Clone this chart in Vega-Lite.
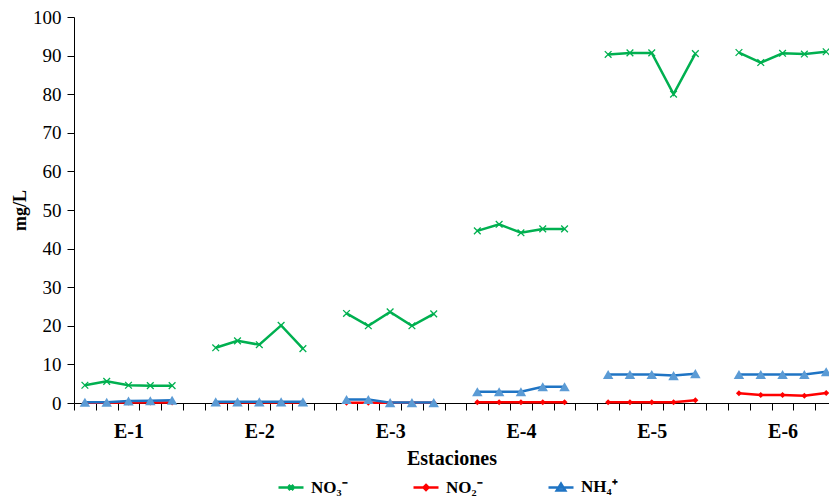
{
  "$schema": "https://vega.github.io/schema/vega-lite/v6.json",
  "width": 755,
  "height": 386,
  "autosize": {"type": "none"},
  "padding": {"left": 74, "top": 17, "right": 0, "bottom": 99},
  "background": "white",
  "config": {"view": {"stroke": null}, "font": "Liberation Serif"},
  "data": {"values": [
    {"station":"E-1","slot":0,"series":"NO₃⁻","value":4.6},
    {"station":"E-1","slot":1,"series":"NO₃⁻","value":5.6},
    {"station":"E-1","slot":2,"series":"NO₃⁻","value":4.6},
    {"station":"E-1","slot":3,"series":"NO₃⁻","value":4.5},
    {"station":"E-1","slot":4,"series":"NO₃⁻","value":4.5},
    {"station":"E-2","slot":6,"series":"NO₃⁻","value":14.3},
    {"station":"E-2","slot":7,"series":"NO₃⁻","value":16.1},
    {"station":"E-2","slot":8,"series":"NO₃⁻","value":15.1},
    {"station":"E-2","slot":9,"series":"NO₃⁻","value":20.1},
    {"station":"E-2","slot":10,"series":"NO₃⁻","value":14.1},
    {"station":"E-3","slot":12,"series":"NO₃⁻","value":23.2},
    {"station":"E-3","slot":13,"series":"NO₃⁻","value":20.0},
    {"station":"E-3","slot":14,"series":"NO₃⁻","value":23.6},
    {"station":"E-3","slot":15,"series":"NO₃⁻","value":20.0},
    {"station":"E-3","slot":16,"series":"NO₃⁻","value":23.1},
    {"station":"E-4","slot":18,"series":"NO₃⁻","value":44.6},
    {"station":"E-4","slot":19,"series":"NO₃⁻","value":46.3},
    {"station":"E-4","slot":20,"series":"NO₃⁻","value":44.1},
    {"station":"E-4","slot":21,"series":"NO₃⁻","value":45.1},
    {"station":"E-4","slot":22,"series":"NO₃⁻","value":45.1},
    {"station":"E-5","slot":24,"series":"NO₃⁻","value":90.3},
    {"station":"E-5","slot":25,"series":"NO₃⁻","value":90.7},
    {"station":"E-5","slot":26,"series":"NO₃⁻","value":90.7},
    {"station":"E-5","slot":27,"series":"NO₃⁻","value":80.0},
    {"station":"E-5","slot":28,"series":"NO₃⁻","value":90.5},
    {"station":"E-6","slot":30,"series":"NO₃⁻","value":90.8},
    {"station":"E-6","slot":31,"series":"NO₃⁻","value":88.2},
    {"station":"E-6","slot":32,"series":"NO₃⁻","value":90.6},
    {"station":"E-6","slot":33,"series":"NO₃⁻","value":90.4},
    {"station":"E-6","slot":34,"series":"NO₃⁻","value":91.0},
    {"station":"E-1","slot":0,"series":"NO₂⁻","value":0.05},
    {"station":"E-1","slot":1,"series":"NO₂⁻","value":0.05},
    {"station":"E-1","slot":2,"series":"NO₂⁻","value":0.1},
    {"station":"E-1","slot":3,"series":"NO₂⁻","value":0.1},
    {"station":"E-1","slot":4,"series":"NO₂⁻","value":0.1},
    {"station":"E-2","slot":6,"series":"NO₂⁻","value":0.1},
    {"station":"E-2","slot":7,"series":"NO₂⁻","value":0.1},
    {"station":"E-2","slot":8,"series":"NO₂⁻","value":0.1},
    {"station":"E-2","slot":9,"series":"NO₂⁻","value":0.1},
    {"station":"E-2","slot":10,"series":"NO₂⁻","value":0.1},
    {"station":"E-3","slot":12,"series":"NO₂⁻","value":0.05},
    {"station":"E-3","slot":13,"series":"NO₂⁻","value":0.05},
    {"station":"E-3","slot":14,"series":"NO₂⁻","value":0.05},
    {"station":"E-3","slot":15,"series":"NO₂⁻","value":0.05},
    {"station":"E-3","slot":16,"series":"NO₂⁻","value":0.05},
    {"station":"E-4","slot":18,"series":"NO₂⁻","value":0.2},
    {"station":"E-4","slot":19,"series":"NO₂⁻","value":0.2},
    {"station":"E-4","slot":20,"series":"NO₂⁻","value":0.2},
    {"station":"E-4","slot":21,"series":"NO₂⁻","value":0.2},
    {"station":"E-4","slot":22,"series":"NO₂⁻","value":0.2},
    {"station":"E-5","slot":24,"series":"NO₂⁻","value":0.2},
    {"station":"E-5","slot":25,"series":"NO₂⁻","value":0.2},
    {"station":"E-5","slot":26,"series":"NO₂⁻","value":0.2},
    {"station":"E-5","slot":27,"series":"NO₂⁻","value":0.2},
    {"station":"E-5","slot":28,"series":"NO₂⁻","value":0.7},
    {"station":"E-6","slot":30,"series":"NO₂⁻","value":2.5},
    {"station":"E-6","slot":31,"series":"NO₂⁻","value":2.1},
    {"station":"E-6","slot":32,"series":"NO₂⁻","value":2.1},
    {"station":"E-6","slot":33,"series":"NO₂⁻","value":1.9},
    {"station":"E-6","slot":34,"series":"NO₂⁻","value":2.6},
    {"station":"E-1","slot":0,"series":"NH₄⁺","value":0.2},
    {"station":"E-1","slot":1,"series":"NH₄⁺","value":0.2},
    {"station":"E-1","slot":2,"series":"NH₄⁺","value":0.5},
    {"station":"E-1","slot":3,"series":"NH₄⁺","value":0.6},
    {"station":"E-1","slot":4,"series":"NH₄⁺","value":0.7},
    {"station":"E-2","slot":6,"series":"NH₄⁺","value":0.3},
    {"station":"E-2","slot":7,"series":"NH₄⁺","value":0.3},
    {"station":"E-2","slot":8,"series":"NH₄⁺","value":0.3},
    {"station":"E-2","slot":9,"series":"NH₄⁺","value":0.3},
    {"station":"E-2","slot":10,"series":"NH₄⁺","value":0.3},
    {"station":"E-3","slot":12,"series":"NH₄⁺","value":0.9},
    {"station":"E-3","slot":13,"series":"NH₄⁺","value":0.9},
    {"station":"E-3","slot":14,"series":"NH₄⁺","value":0.1},
    {"station":"E-3","slot":15,"series":"NH₄⁺","value":0.1},
    {"station":"E-3","slot":16,"series":"NH₄⁺","value":0.1},
    {"station":"E-4","slot":18,"series":"NH₄⁺","value":2.9},
    {"station":"E-4","slot":19,"series":"NH₄⁺","value":2.9},
    {"station":"E-4","slot":20,"series":"NH₄⁺","value":2.9},
    {"station":"E-4","slot":21,"series":"NH₄⁺","value":4.2},
    {"station":"E-4","slot":22,"series":"NH₄⁺","value":4.2},
    {"station":"E-5","slot":24,"series":"NH₄⁺","value":7.4},
    {"station":"E-5","slot":25,"series":"NH₄⁺","value":7.4},
    {"station":"E-5","slot":26,"series":"NH₄⁺","value":7.4},
    {"station":"E-5","slot":27,"series":"NH₄⁺","value":7.1},
    {"station":"E-5","slot":28,"series":"NH₄⁺","value":7.6},
    {"station":"E-6","slot":30,"series":"NH₄⁺","value":7.4},
    {"station":"E-6","slot":31,"series":"NH₄⁺","value":7.4},
    {"station":"E-6","slot":32,"series":"NH₄⁺","value":7.4},
    {"station":"E-6","slot":33,"series":"NH₄⁺","value":7.4},
    {"station":"E-6","slot":34,"series":"NH₄⁺","value":8.1}
  ]},
  "encoding": {
    "x": {
      "field": "slot", "type": "quantitative",
      "scale": {"domain": [-0.5, 34.13], "nice": false, "zero": false},
      "axis": {
        "values": [-0.5,0.5,1.5,2.5,3.5,4.5,5.5,6.5,7.5,8.5,9.5,10.5,11.5,12.5,13.5,14.5,15.5,16.5,17.5,18.5,19.5,20.5,21.5,22.5,23.5,24.5,25.5,26.5,27.5,28.5,29.5,30.5,31.5,32.5,33.5,2,8,14,20,26,32],
        "labelExpr": "datum.value % 6 == 2 ? 'E-' + (floor(datum.value / 6) + 1) : ''",
        "labelOverlap": false, "labelBound": false, "labelFlush": false,
        "labelFont": "Liberation Serif", "labelFontSize": 20, "labelFontWeight": "bold", "labelColor": "black",
        "labelPadding": 11,
        "tickSize": 7, "tickColor": "black", "tickWidth": 1,
        "tickOpacity": {"condition": {"test": "datum.value % 6 == 2", "value": 0}, "value": 1},
        "domainColor": "black", "domainWidth": 1, "grid": false,
        "title": "Estaciones", "titleFont": "Liberation Serif", "titleFontSize": 20, "titleFontWeight": "bold", "titleColor": "black", "titlePadding": 7
      }
    },
    "y": {
      "field": "value", "type": "quantitative",
      "scale": {"domain": [0, 100], "nice": false},
      "axis": {
        "values": [0,10,20,30,40,50,60,70,80,90,100],
        "labelFont": "Liberation Serif", "labelFontSize": 19, "labelColor": "black", "labelPadding": 6,
        "tickSize": 7, "tickColor": "black", "domainColor": "black", "grid": false,
        "title": "mg/L", "titleFont": "Liberation Serif", "titleFontSize": 18, "titleFontWeight": "bold", "titleColor": "black", "titlePadding": 3
      }
    }
  },
  "layer": [
    {
      "mark": {"type": "line", "strokeWidth": 2.5},
      "encoding": {
        "color": {
          "field": "series", "type": "nominal",
          "scale": {"domain": ["NO₃⁻", "NO₂⁻", "NH₄⁺"], "range": ["#00B050", "#FF0000", "#1F74C4"]},
          "legend": {
            "title": null, "orient": "none", "legendX": 203, "legendY": 456, "direction": "horizontal", "columns": 3,
            "columnPadding": 60, "padding": 0, "symbolSize": 625, "symbolStrokeWidth": 2.5, "symbolOffset": 0,
            "labelOffset": 6, "labelFont": "Liberation Serif", "labelFontSize": 17, "labelFontWeight": "bold", "labelColor": "black",
            "encode": {"symbols": {"update": {
              "shape": {"signal": "datum.value == 'NO₃⁻' ? 'M-1,0H1M-0.2,-0.2L0.2,0.2M-0.2,0.2L0.2,-0.2' : datum.value == 'NO₂⁻' ? 'M-1,0H1M0,-0.2L0.2,0L0,0.2L-0.2,0Z' : 'M-1,0H1M0,-0.3L0.34,0.25L-0.34,0.25Z'"},
              "fill": {"signal": "datum.value == 'NH₄⁺' ? '#5B9BD5' : scale('color', datum.value)"}
            }}}
          }
        },
        "detail": {"field": "station"}
      }
    },
    {
      "transform": [{"filter": "datum.series == 'NO₃⁻'"}],
      "mark": {"type": "point", "shape": "M-1,-1L1,1M-1,1L1,-1", "filled": false, "color": "#00B050", "size": 45, "strokeWidth": 1.3, "opacity": 1}
    },
    {
      "transform": [{"filter": "datum.series == 'NO₂⁻'"}],
      "mark": {"type": "point", "shape": "diamond", "filled": true, "color": "#FF0000", "size": 36, "opacity": 1}
    },
    {
      "transform": [{"filter": "datum.series == 'NH₄⁺'"}],
      "mark": {"type": "point", "shape": "triangle-up", "filled": true, "color": "#5B9BD5", "size": 110, "opacity": 1}
    }
  ]
}
